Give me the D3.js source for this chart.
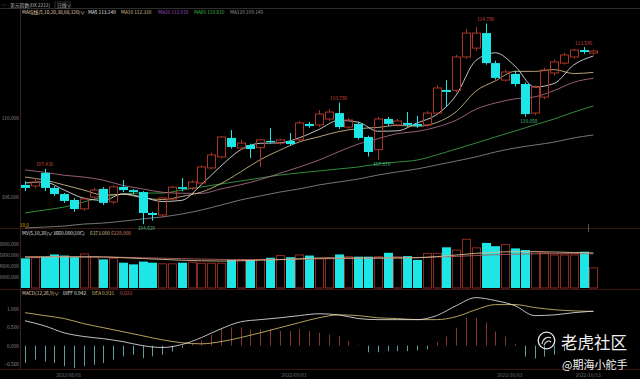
<!DOCTYPE html>
<html><head><meta charset="utf-8">
<script src="https://cdn.jsdelivr.net/npm/d3@7"></script>
<style>body{margin:0;background:#000;}svg{display:block;}</style>
</head><body><svg id="c" width="640" height="379"></svg>
<script>
// ---------------- data ----------------
const open  = [106.61,106.56,107.22,106.46,106.15,105.85,105.40,106.00,106.41,105.75,106.51,106.35,106.25,105.19,105.09,105.90,106.50,106.45,106.71,107.47,108.03,108.99,108.48,108.63,108.50,108.84,108.73,108.84,108.89,109.70,109.65,109.95,110.25,109.54,109.70,109.04,108.40,109.95,109.65,109.75,109.70,109.65,110.25,111.42,111.40,113.09,113.54,114.30,112.78,111.92,112.23,111.72,110.25,111.06,112.28,112.78,113.09,113.44,113.29];
const high  = [106.80,106.95,107.43,106.55,106.20,105.95,106.00,106.45,106.50,106.60,106.86,106.40,106.30,105.25,106.00,106.55,106.96,106.85,107.60,108.25,109.10,109.39,108.90,108.70,108.95,109.49,108.95,109.24,109.85,109.80,110.40,110.45,110.78,110.00,109.80,109.10,110.05,110.05,109.95,110.30,110.10,110.35,111.65,111.92,113.20,114.50,114.60,114.78,112.90,112.45,112.40,111.80,111.65,112.55,112.95,113.30,113.50,113.59,113.45];
const low   = [106.30,106.45,106.30,106.05,105.70,105.25,105.30,105.90,105.60,105.65,106.25,106.15,104.62,104.80,104.95,105.80,106.30,106.35,106.65,107.40,107.95,108.45,108.40,107.97,107.52,108.70,108.65,108.60,108.80,109.50,109.55,109.85,109.45,109.45,108.90,108.05,107.87,109.60,109.55,109.55,109.50,109.55,110.15,110.56,111.30,113.00,113.40,112.70,111.95,111.85,111.60,110.058,110.15,110.95,112.15,112.70,113.00,113.25,113.20];
const close = [106.46,106.76,106.46,106.15,105.80,105.39,105.90,106.35,105.70,106.51,106.35,106.25,105.19,105.09,105.95,106.50,106.41,106.76,107.52,108.13,109.04,108.53,108.73,108.43,108.89,108.78,108.89,108.68,109.75,109.59,110.20,110.30,109.54,109.90,108.99,108.28,109.95,109.70,109.85,109.65,109.60,110.25,111.52,111.32,113.09,114.30,114.30,112.78,112.03,112.33,111.72,110.20,111.57,112.43,112.84,113.19,113.44,113.34,113.39];
const volume = [5400,5500,5700,6100,5900,5600,6200,5700,5200,5400,4600,4300,4800,4600,4400,4400,4600,4700,4500,4500,4500,5100,5000,5100,5200,5500,5900,5600,6000,5900,5400,5500,6100,5700,5700,5700,5700,6400,5700,5800,5100,6300,6300,7400,6900,8850,7300,8200,7600,7900,7200,6900,6600,6400,6000,6000,6000,6600,3660];

// moving averages read at every second candle (index 0,2,4,...,58)
const ma5   = [106.71,106.76,106.35,105.94,105.83,106.16,106.00,105.77,105.83,106.63,107.57,108.39,108.72,108.74,109.00,109.42,109.88,109.79,109.33,109.35,109.75,110.17,111.16,112.91,113.30,112.63,111.57,111.75,112.69,113.14];
const ma10  = [107.01,106.86,106.61,106.35,106.10,106.14,105.96,105.87,106.03,106.25,106.68,107.27,107.89,108.37,108.79,109.05,109.31,109.46,109.52,109.63,109.58,109.77,110.32,111.36,111.88,112.36,112.36,112.45,112.25,112.31];
const ma20  = [107.37,107.25,107.10,107.01,106.85,106.58,106.41,106.24,106.19,106.18,106.41,106.62,106.88,107.20,107.52,107.87,108.29,108.68,108.95,109.21,109.32,109.54,109.89,110.44,110.76,110.97,111.07,111.39,111.81,112.01];
const ma60  = [105.19,105.34,105.49,105.75,106.00,106.15,106.20,106.20,106.35,106.51,106.66,106.81,106.96,107.11,107.22,107.32,107.42,107.52,107.67,107.77,107.87,108.13,108.43,108.73,109.04,109.34,109.65,109.95,110.30,110.61];
const ma120 = [104.43,104.48,104.53,104.63,104.68,104.78,104.89,104.99,105.14,105.34,105.59,105.85,106.05,106.25,106.41,106.61,106.76,106.91,107.11,107.27,107.42,107.62,107.82,108.03,108.28,108.48,108.63,108.78,108.99,109.14];
const volMa1 = [5600,5620,5650,5650,5640,5500,5350,5200,5050,4950,4900,4950,5050,5150,5300,5450,5450,5450,5450,5450,5500,5700,6000,6300,6500,6600,6600,6550,6450,6373];
const volMa2 = [5700,5700,5700,5680,5650,5580,5500,5420,5340,5260,5200,5180,5180,5200,5250,5300,5350,5400,5450,5500,5550,5650,5750,5900,6050,6150,6220,6250,6250,6228];
const dif = [0.68,0.54,0.35,0.25,0.19,0.11,0.00,-0.05,0.03,0.22,0.46,0.65,0.71,0.76,0.82,0.87,0.84,0.74,0.71,0.71,0.71,0.82,1.09,1.31,1.23,1.09,0.82,0.84,0.90,0.942];
const dea = [0.90,0.82,0.74,0.60,0.49,0.38,0.27,0.16,0.08,0.05,0.11,0.22,0.35,0.49,0.63,0.76,0.84,0.82,0.76,0.74,0.71,0.71,0.79,0.98,1.12,1.12,1.04,0.98,0.95,0.931];
const macdHist = [-0.47,-0.38,-0.43,-0.47,-0.56,-0.61,-0.56,-0.52,-0.47,-0.38,-0.29,-0.25,-0.34,-0.29,-0.25,-0.16,-0.06,0.05,0.15,0.30,0.45,0.50,0.50,0.45,0.45,0.45,0.40,0.40,0.45,0.40,0.35,0.30,0.27,0.12,0.02,-0.18,-0.18,-0.15,-0.15,-0.15,-0.13,-0.10,0.10,0.25,0.49,0.76,0.76,0.63,0.39,0.25,0.05,-0.30,-0.35,-0.30,-0.25,-0.15,-0.10,0.02,0.02];

const priceTicks = [106, 110];
const volTicks = [2000, 4000, 6000, 8000];
const macdTicks = [-0.5, 0, 0.5, 1];
const dateTickIdx = [4, 27, 49, 57];
const dateLabels = ['2022/08/01', '2022/09/01', '2022/10/03', '2022/10/13'];
const highMarks = [2, 32, 47, 57];
const lowMarks = [12, 36, 51];

// ---------------- drawing ----------------
const svg = d3.select('#c');
const FONT = '"Noto Sans CJK SC","Noto Sans",sans-serif';
svg.append('rect').attr('width', 640).attr('height', 379).attr('fill', '#000');

const x = d3.scaleLinear().domain([0, 58]).range([25, 593.4]);
const yP = d3.scaleLinear().domain([106, 110]).range([197, 118]);
const yV = d3.scaleLinear().domain([0, 8000]).range([288, 244]);
const yM = d3.scaleLinear().domain([-0.5, 1]).range([364, 309]);
const bw = 8;
const RED = '#aa3528', CYAN = '#1ee6e6', VRED = '#8c2a20';

// frame
const frame = svg.append('g');
frame.append('line').attr('x1', 0).attr('x2', 640).attr('y1', 8.5).attr('y2', 8.5).attr('stroke', '#2e2e2e');
[228.5, 289.5, 369.5].forEach(v => frame.append('line').attr('x1', 0).attr('x2', 640).attr('y1', v).attr('y2', v).attr('stroke', '#3a1512'));
frame.append('line').attr('x1', 20.5).attr('x2', 20.5).attr('y1', 8.5).attr('y2', 369.5).attr('stroke', '#3a2220');

// axes
function styleAxis(g) {
  g.select('.domain').remove();
  g.selectAll('text').attr('fill', '#8c8c8c').style('font-size', '4.8px').style('font-family', FONT);
}
svg.append('g').attr('transform', 'translate(20,0)')
  .call(d3.axisLeft(yP).tickValues(priceTicks).tickFormat(d3.format('.3f')).tickSize(0).tickPadding(1)).call(styleAxis);
svg.append('g').attr('transform', 'translate(20,0)')
  .call(d3.axisLeft(yV).tickValues(volTicks).tickFormat(d3.format('.3f')).tickSize(0).tickPadding(1)).call(styleAxis);
svg.append('g').attr('transform', 'translate(20,0)')
  .call(d3.axisLeft(yM).tickValues(macdTicks).tickFormat(d3.format('.3f')).tickSize(0).tickPadding(1)).call(styleAxis);
const xa = svg.append('g').attr('transform', 'translate(0,370)')
  .call(d3.axisBottom(x).tickValues(dateTickIdx).tickFormat((d, k) => dateLabels[k]).tickSize(0).tickPadding(4));
styleAxis(xa);
xa.selectAll('text').attr('dx', 4).attr('fill', '#777');

// MA lines (main)
const lineP = d3.line().x((d, k) => x(k * 2)).y(d => yP(d)).curve(d3.curveMonotoneX);
const maDefs = [[ma120, '#8a8a8a'], [ma60, '#3aa546'], [ma20, '#b07086'], [ma10, '#d4bd8e'], [ma5, '#e4e4e4']];
maDefs.forEach(([arr, col]) => svg.append('path').attr('d', lineP(arr)).attr('fill', 'none').attr('stroke', col).attr('stroke-width', 0.85));

// candles
const idx = close.map((_, i) => i);
const cg = svg.append('g');
idx.forEach(i => {
  const up = close[i] >= open[i];
  const col = up ? RED : CYAN;
  const top = yP(Math.max(open[i], close[i]));
  const bot = yP(Math.min(open[i], close[i]));
  const cx = Math.round(x(i)) + 0.5;
  cg.append('line').attr('x1', cx).attr('x2', cx).attr('y1', yP(high[i])).attr('y2', top).attr('stroke', col).attr('stroke-width', 1);
  cg.append('line').attr('x1', cx).attr('x2', cx).attr('y1', bot).attr('y2', yP(low[i])).attr('stroke', col).attr('stroke-width', 1);
  const h = Math.max(1, bot - top);
  if (up) {
    cg.append('rect').attr('x', cx - bw / 2).attr('y', top).attr('width', bw).attr('height', h)
      .attr('fill', 'none').attr('stroke', col).attr('stroke-width', 1);
  } else {
    cg.append('rect').attr('x', cx - bw / 2 - 0.5).attr('y', top).attr('width', bw + 1).attr('height', h).attr('fill', col);
  }
});

// high / low labels
highMarks.forEach(i => svg.append('text').attr('x', x(i)).attr('y', yP(high[i]) - 2.5).attr('text-anchor', 'middle')
  .attr('fill', '#d2473a').style('font-size', '4.8px').style('font-family', FONT).text(d3.format('.3f')(high[i])));
lowMarks.forEach(i => svg.append('text').attr('x', x(i) + 4).attr('y', yP(low[i]) + 6).attr('text-anchor', 'middle')
  .attr('fill', '#4cc08a').style('font-size', '4.8px').style('font-family', FONT).text(d3.format('.3f')(low[i])));
svg.append('text').attr('x', 20).attr('y', 227).attr('fill', '#d4b000').style('font-size', '4.5px').style('font-family', FONT).text('10.0');
// cursor tick
svg.append('line').attr('x1', Math.round(x(57)) + 4.5).attr('x2', Math.round(x(57)) + 4.5).attr('y1', 224).attr('y2', 232).attr('stroke', '#777').attr('stroke-width', 0.7);

// volume
const vg = svg.append('g');
idx.forEach(i => {
  const up = close[i] >= open[i];
  const cx = Math.round(x(i)) + 0.5;
  if (up) {
    vg.append('rect').attr('x', cx - bw / 2).attr('y', yV(volume[i])).attr('width', bw).attr('height', yV(0) - yV(volume[i]))
      .attr('fill', 'none').attr('stroke', VRED).attr('stroke-width', 1);
  } else {
    vg.append('rect').attr('x', cx - bw / 2 - 0.5).attr('y', yV(volume[i])).attr('width', bw + 1).attr('height', yV(0) - yV(volume[i])).attr('fill', CYAN);
  }
});
const lineV = d3.line().x((d, k) => x(k * 2)).y(d => yV(d)).curve(d3.curveMonotoneX);
svg.append('path').attr('d', lineV(volMa2)).attr('fill', 'none').attr('stroke', '#b05a62').attr('stroke-width', 0.9);
svg.append('path').attr('d', lineV(volMa1)).attr('fill', 'none').attr('stroke', '#d4bd8e').attr('stroke-width', 0.9);

// MACD
const mg = svg.append('g');
idx.forEach(i => {
  const v = macdHist[i];
  const cx = Math.round(x(i)) + 0.5;
  mg.append('line').attr('x1', cx).attr('x2', cx).attr('y1', yM(0)).attr('y2', yM(v))
    .attr('stroke', v >= 0 ? '#a8443a' : '#78c4c6').attr('stroke-width', 1).attr('opacity', 0.8);
});
const lineM = d3.line().x((d, k) => x(k * 2)).y(d => yM(d)).curve(d3.curveMonotoneX);
svg.append('path').attr('d', lineM(dea)).attr('fill', 'none').attr('stroke', '#d4bc6e').attr('stroke-width', 0.85);
svg.append('path').attr('d', lineM(dif)).attr('fill', 'none').attr('stroke', '#e2e2e2').attr('stroke-width', 0.85);

// legends
function legend(yb, parts) {
  const t = svg.append('text').attr('y', yb).style('font-size', '4.8px').style('font-family', FONT);
  parts.forEach(([px, txt, col]) => t.append('tspan').attr('x', px).attr('fill', col).text(txt));
}
svg.append('text').attr('x', 0.5).attr('y', 6.5).attr('fill', '#777').style('font-size', '3.4px').style('font-family', FONT).text('◁▷');
legend(7, [[10, '美元指数(DX 2212)', '#bdbdbd'], [57, '日线∨', '#bdbdbd']]);
svg.append('rect').attr('x', 55).attr('y', 2).attr('width', 15).attr('height', 6.5).attr('fill', 'none').attr('stroke', '#555').attr('stroke-width', 0.5);
legend(14, [[22, 'MA均线(5,10,20,30,60,120)∨', '#e0d4b0'], [88, 'MA5 ' + d3.format('.3f')(ma5[29]), '#e8e8e8'],
  [121, 'MA10 ' + d3.format('.3f')(ma10[29]), '#d9c291'], [158, 'MA20 ' + d3.format('.3f')(ma20[29]), '#a64cc0'],
  [194, 'MA60 ' + d3.format('.3f')(ma60[29]), '#3fb84a'], [230, 'MA120 ' + d3.format('.3f')(ma120[29]), '#9a9a9a']]);
legend(235, [[22, 'MV(5,10,20)∨', '#e0e0e0'], [53, d3.format('.3f')(volume[58]) + '(10C)', '#e0e0e0'],
  [90, d3.format('.3f')(volMa1[29]), '#d9c291'], [111, d3.format('.3f')(volMa2[29]), '#d48a6a']]);
legend(294.5, [[22, 'MACD(12,26,9)∨', '#e0d4b0'], [63, 'DIFF ' + d3.format('.3f')(dif[29]), '#e6e6e6'],
  [92, 'DEA ' + d3.format('.3f')(dea[29]), '#d8c070'], [120, d3.format('.3f')(macdHist[57] + 0.003), '#d05a4a']]);

// watermark
const wm = svg.append('g');
wm.append('circle').attr('cx', 546.5).attr('cy', 340.5).attr('r', 8.3).attr('fill', 'none').attr('stroke', '#e8e8e8').attr('stroke-width', 1.3);
wm.append('path').attr('d', 'M542,344 C543,338 548,336 551,338 M544,345 C546,341 549,340 551,342').attr('fill', 'none').attr('stroke', '#e8e8e8').attr('stroke-width', 1.1);
wm.append('text').attr('x', 561).attr('y', 349).attr('fill', '#f0f0f0').style('font-size', '16.5px').style('font-family', FONT).text('老虎社区');
wm.append('text').attr('x', 562).attr('y', 369).attr('fill', '#f0f0f0').style('font-size', '11px').style('font-family', FONT).text('@期海小舵手');
</script>
</body></html>
